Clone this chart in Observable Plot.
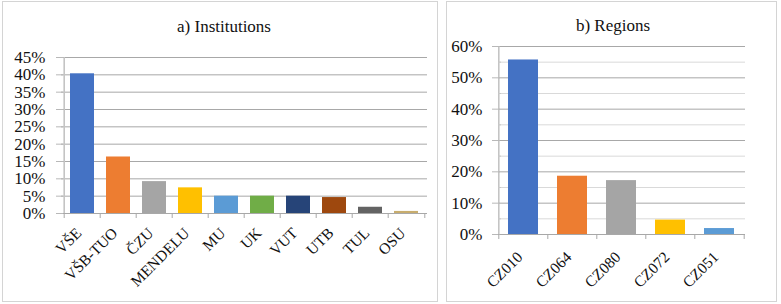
<!DOCTYPE html>
<html><head><meta charset="utf-8">
<script src="https://cdn.jsdelivr.net/npm/d3@7"></script>
<script src="https://cdn.jsdelivr.net/npm/@observablehq/plot@0.6"></script>
<style>
body{margin:0;background:#fff;font-family:"Liberation Serif","Times New Roman",serif;}
#wrap{position:relative;width:781px;height:304px;overflow:hidden;background:#fff}
.panel{position:absolute;border:1px solid #d4d4d4;box-sizing:border-box}
.title{position:absolute;font-size:17px;line-height:17px;color:#111;white-space:nowrap;transform:translateX(-50%)}
.chart{position:absolute}
</style></head><body>
<div id="wrap">
  <div class="panel" style="left:2px;top:1px;width:436px;height:301px"></div>
  <div class="panel" style="left:446px;top:1px;width:331px;height:301px"></div>
  <div class="title" style="left:224px;top:18px">a) Institutions</div>
  <div class="title" style="left:613px;top:17px">b) Regions</div>
  <div class="chart" id="left" style="left:3px;top:2px"></div>
  <div class="chart" id="right" style="left:448px;top:2px"></div>
</div>
<script>
// ---- data ----
const instNames = ["VŠE", "VŠB-TUO", "ČZU", "MENDELU", "MU", "UK", "VUT", "UTB", "TUL", "OSU"];
const instShares = [40.3, 16.3, 9.2, 7.4, 5.0, 5.0, 5.0, 4.6, 1.8, 0.6];
const instColors = ["#4472C4", "#ED7D31", "#A5A5A5", "#FFC000", "#5B9BD5", "#70AD47", "#264478", "#9E480E", "#636363", "#C8AD6E"];
const instTicks = [0, 5, 10, 15, 20, 25, 30, 35, 40, 45];

const regNames = ["CZ010", "CZ064", "CZ080", "CZ072", "CZ051"];
const regShares = [55.7, 18.6, 17.2, 4.6, 1.9];
const regColors = ["#4472C4", "#ED7D31", "#A5A5A5", "#FFC000", "#5B9BD5"];
const regTicks = [0, 10, 20, 30, 40, 50, 60];
const regMinorTicks = [5, 15, 25, 35, 45, 55];

function barChart({names, values, colors, width, height, ml, mr, mt, mb, yMax, major, minor, pad, labelTicks, majorTickOut, minorTickIn, labelDx, labelDy}) {
  const data = names.map((n, i) => ({name: n, value: values[i], color: colors[i]}));
  const plotW = width - ml - mr, plotH = height - mt - mb;
  const step = plotW / names.length;
  return Plot.plot({
    width, height,
    marginLeft: ml, marginRight: mr, marginTop: mt, marginBottom: mb,
    style: {fontFamily: "'Liberation Serif', 'Times New Roman', serif", fontSize: "17px", color: "#111", background: "transparent", overflow: "visible"},
    x: {domain: names, paddingInner: pad, paddingOuter: pad / 2, axis: null},
    y: {domain: [0, yMax], axis: null},
    marks: [
      Plot.ruleY(minor, {stroke: "#d9d9d9", strokeWidth: 1}),
      Plot.ruleY(major.filter(t => t > 0), {stroke: "#a8a8a8", strokeWidth: 1}),
      Plot.barY(data, {x: "name", y: "value", fill: "color"}),
      Plot.ruleY([0], {stroke: "#a8a8a8", strokeWidth: 1.2}),
      Plot.ruleX([names[0]], {x: d => d, dx: -step / 2, stroke: "#c4c4c4", strokeWidth: 1.6}),
      Plot.tickY(major, {y: d => d, insetLeft: -majorTickOut, insetRight: plotW - 2, stroke: "#b8b8b8"}),
      Plot.tickY(minor, {y: d => d, insetLeft: 0, insetRight: plotW - minorTickIn, stroke: "#c8c8c8"}),
      Plot.tickX(names, {x: d => d, dx: -step / 2, insetTop: plotH, insetBottom: -5, stroke: "#a8a8a8"}),
      Plot.tickX([names[names.length - 1]], {x: d => d, dx: step / 2, insetTop: plotH, insetBottom: -5, stroke: "#a8a8a8"}),
      Plot.text(labelTicks, {y: d => d, text: d => d + "%", frameAnchor: "left", dx: -16, textAnchor: "end", fill: "#111"}),
      Plot.text(names, {x: d => d, text: d => d, frameAnchor: "bottom", dy: labelDy, dx: labelDx, rotate: -45, textAnchor: "end", fontSize: 15.5, fill: "#111"})
    ]
  });
}

document.getElementById("left").appendChild(barChart({
  names: instNames, values: instShares, colors: instColors,
  width: 434, height: 299, ml: 58, mr: 10, mt: 55, mb: 88,
  yMax: 45, major: instTicks, minor: [], pad: 0.32, labelTicks: instTicks,
  majorTickOut: 5, minorTickIn: 3, labelDx: 0, labelDy: 20.5
}));

document.getElementById("right").appendChild(barChart({
  names: regNames, values: regShares, colors: regColors,
  width: 328, height: 299, ml: 50, mr: 31, mt: 44, mb: 67,
  yMax: 60, major: regTicks, minor: regMinorTicks, pad: 0.38, labelTicks: regTicks,
  majorTickOut: 6, minorTickIn: 3, labelDx: 0, labelDy: 23.5
}));
</script>
</body></html>
